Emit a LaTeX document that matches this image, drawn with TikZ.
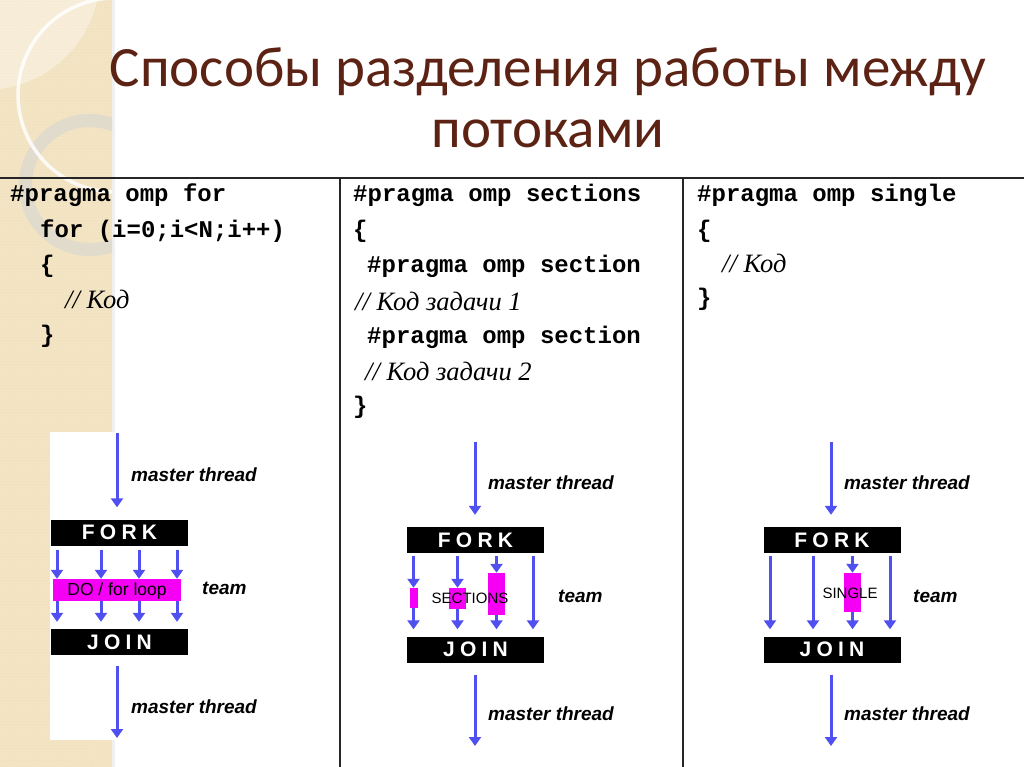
\documentclass[tikz,border=0pt]{standalone}
\usepackage{fontspec}
\setmainfont{Liberation Serif}
\setsansfont{Liberation Sans}
\setmonofont{Liberation Mono}
\newfontfamily\titlefont{Carlito}
\newfontfamily\barfont[LetterSpace=25]{Liberation Sans}
\usetikzlibrary{arrows.meta,patterns}
\definecolor{titlebrown}{RGB}{92,35,20}
\definecolor{beige}{RGB}{243,228,196}
\definecolor{beigedot}{RGB}{233,216,180}
\definecolor{bandgray}{RGB}{222,218,206}
\definecolor{thrblue}{RGB}{80,80,240}
\definecolor{mag}{RGB}{245,0,245}
\tikzset{
  titletext/.style={inner sep=0, text=titlebrown, font=\titlefont\fontsize{57}{60}\selectfont},
  codeline/.style={anchor=base west, inner sep=0, font=\ttfamily\bfseries\fontsize{24}{28}\selectfont},
  cmt/.style={anchor=base west, inner sep=0, font=\itshape\fontsize{26.5}{30}\selectfont},
  blackbar/.style={fill=black, minimum width=137pt, minimum height=26pt, inner sep=0, text=white, font=\barfont\bfseries\fontsize{21}{21}\selectfont},
  thr/.style={-{Triangle[width=12pt,length=9pt]}, draw=thrblue, line width=3pt},
  lbl/.style={anchor=west, inner sep=0, font=\sffamily\bfseries\itshape\fontsize{19}{19}\selectfont},
  magbox/.style={fill=mag, inner sep=0},
  magtext/.style={inner sep=0, font=\sffamily\fontsize{15}{15}\selectfont},
  rule/.style={draw=black!85, line width=1.5pt}
}
\begin{document}
\begin{tikzpicture}[x=1pt,y=-1pt]
\useasboundingbox (0,0) rectangle (1024,767);
% background panel
\fill[white] (0,0) rectangle (1024,767);
\fill[beige] (0,0) rectangle (112,767);
\fill[pattern=dots, pattern color=beigedot] (0,0) rectangle (112,767);
\begin{scope}
  \clip (0,0) rectangle (112,767);
  \fill[white, opacity=0.35] (-15,-25) circle (115);
  \draw[bandgray, opacity=0.85, line width=13pt] (90,185) circle (64.5);
  \draw[white, opacity=0.85, line width=3.5pt] (115,95) circle (97);
\end{scope}
\fill[black, opacity=0.06] (112,0) rectangle (115,767);
% title
\node[titletext, anchor=base] (title1) at (548,87) {Способы разделения работы между};
\node[titletext, anchor=base] (title2) at (548,148) {потоками};
% table rules
\draw[rule, line width=2pt] (0,178) -- (1024,178);
\draw[rule] (340,178) -- (340,767);
\draw[rule] (683,178) -- (683,767);
% column 1 code
\node[codeline] (c1a) at (10,202) {\#pragma omp for};
\node[codeline] (c1b) at (40,237) {for (i=0;i<N;i++)};
\node[codeline] (c1c) at (40,272) {\{};
\node[cmt] (c1d) at (65,308) {// Код};
\node[codeline] (c1e) at (40,342) {\}};
% column 2 code
\node[codeline] (c2a) at (353,202) {\#pragma omp sections};
\node[codeline] (c2b) at (353,237) {\{};
\node[codeline] (c2c) at (367,272) {\#pragma omp section};
\node[cmt] (c2d) at (355,310) {// Код задачи 1};
\node[codeline] (c2e) at (367,343) {\#pragma omp section};
\node[cmt] (c2f) at (365,380) {// Код задачи 2};
\node[codeline] (c2g) at (353,413) {\}};
% column 3 code
\node[codeline] (c3a) at (697,202) {\#pragma omp single};
\node[codeline] (c3b) at (697,237) {\{};
\node[cmt] (c3c) at (722,272) {// Код};
\node[codeline] (c3d) at (697,305) {\}};

% ===== diagram 1 =====
\fill[white] (50,432) rectangle (200,740);
\node[blackbar] (fork1) at (119.5,532.5) {FORK};
\node[blackbar] (join1) at (119.5,642) {JOIN};
\node[magbox, minimum width=128pt, minimum height=22pt] (loop1) at (117,590) {};
\node[magtext, font=\sffamily\fontsize{17.5}{17.5}\selectfont] (loop1t) at (117,590.5) {DO / for loop};
\coordinate (m1top) at (117,433);
\coordinate (m1bot) at (117,738);
\coordinate (d1a) at (57,0);
\coordinate (d1b) at (101,0);
\coordinate (d1c) at (139,0);
\coordinate (d1d) at (177,0);
\draw[thr, shorten >=12pt] (m1top) -- (fork1.north -| m1top);
\draw[thr, shorten <=11pt] (join1.south -| m1bot) -- (m1bot);
\foreach \c in {d1a,d1b,d1c,d1d}{
  \draw[thr, shorten <=4pt] (fork1.south -| \c) -- (loop1.north -| \c);
  \draw[thr, shorten >=7pt] (loop1.south -| \c) -- (join1.north -| \c);
}
\node[lbl] (mt1a) at (131,475) {master thread};
\node[lbl] (mt1b) at (131,707) {master thread};
\node[lbl] (team1) at (202,588) {team};

% ===== diagram 2 =====
\node[blackbar] (fork2) at (475.5,540) {FORK};
\node[blackbar] (join2) at (475.5,649.5) {JOIN};
\node[magbox, minimum width=8pt, minimum height=20pt] (s1) at (413.5,598) {};
\node[magbox, minimum width=17pt, minimum height=21pt] (s2) at (457.5,598.5) {};
\node[magbox, minimum width=17pt, minimum height=42pt] (s3) at (496.5,594) {};
\node[magtext] (sect) at (470,598) {SECTIONS};
\coordinate (m2top) at (475,442);
\coordinate (m2bot) at (475,746);
\coordinate (d2d) at (533,0);
\draw[thr, shorten >=12pt] (m2top) -- (fork2.north -| m2top);
\draw[thr, shorten <=12pt] (join2.south -| m2bot) -- (m2bot);
\foreach \s in {s1,s2,s3}{
  \draw[thr, shorten <=3pt] (fork2.south -| \s) -- (\s.north);
  \draw[thr, shorten >=7pt] (\s.south) -- (join2.north -| \s);
}
\draw[thr, shorten <=3pt, shorten >=7pt] (fork2.south -| d2d) -- (join2.north -| d2d);
\node[lbl] (mt2a) at (488,483) {master thread};
\node[lbl] (mt2b) at (488,714) {master thread};
\node[lbl] (team2) at (558,596) {team};

% ===== diagram 3 =====
\node[blackbar] (fork3) at (832,540) {FORK};
\node[blackbar] (join3) at (832,649.5) {JOIN};
\node[magbox, minimum width=17pt, minimum height=39pt] (sg) at (852.5,592.5) {};
\node[magtext] (sgt) at (850,593) {SINGLE};
\coordinate (m3top) at (831,442);
\coordinate (m3bot) at (831,746);
\coordinate (d3a) at (770,0);
\coordinate (d3b) at (813,0);
\coordinate (d3d) at (890,0);
\draw[thr, shorten >=12pt] (m3top) -- (fork3.north -| m3top);
\draw[thr, shorten <=12pt] (join3.south -| m3bot) -- (m3bot);
\foreach \c in {d3a,d3b,d3d}{
  \draw[thr, shorten <=3pt, shorten >=7pt] (fork3.south -| \c) -- (join3.north -| \c);
}
\draw[thr, shorten <=3pt] (fork3.south -| sg) -- (sg.north);
\draw[thr, shorten >=7pt] (sg.south) -- (join3.north -| sg);
\node[lbl] (mt3a) at (844,483) {master thread};
\node[lbl] (mt3b) at (844,714) {master thread};
\node[lbl] (team3) at (913,596) {team};
\end{tikzpicture}
\end{document}
